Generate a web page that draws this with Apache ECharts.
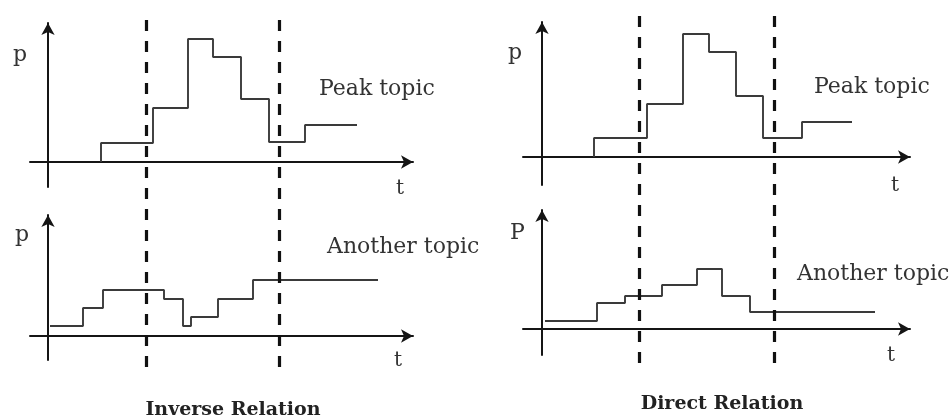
<!DOCTYPE html>
<html>
<head>
<meta charset="utf-8">
<script src="https://cdn.jsdelivr.net/npm/echarts@6/dist/echarts.min.js"></script>
<style>html,body{margin:0;padding:0;background:#fff}#c{width:949px;height:418px}</style>
</head>
<body>
<div id="c"></div>
<script>
// Step functions: each t value is the right end of a level segment (step 'start').
const peakInverseT = [53, 105, 140, 165, 193, 221, 257, 309];
const peakInverseP = [0, 19, 54, 123, 105, 63, 20, 37];
const anotherInverseT = [2, 35, 55, 116, 135, 143, 170, 205, 330];
const anotherInverseP = [10, 10, 28, 46, 37, 10, 19, 37, 56];
const peakDirectT = [52, 105, 141, 167, 194, 221, 260, 310];
const peakDirectP = [0, 19, 53, 123, 105, 61, 19, 35];
const anotherDirectT = [3, 55, 83, 120, 155, 180, 208, 333];
const anotherDirectP = [8, 8, 26, 33, 44, 60, 33, 17];
const boundaryInverseT = [98, 231];
const boundaryDirectT = [97, 232];

const pairs = (t, p) => t.map((v, i) => [v, p[i]]);

const FONT = '"DejaVu Serif", "Liberation Serif", serif';
const AX = '#151515';

const grids = [
  { left: 30, top: 23, width: 383, height: 164 },
  { left: 30, top: 215, width: 383, height: 145 },
  { left: 523, top: 22, width: 387, height: 163 },
  { left: 523, top: 210, width: 387, height: 145 },
  { left: 30, top: 14, width: 383, height: 353 },
  { left: 523, top: 12, width: 387, height: 351 }
];
const xr = [[-18, 365], [-18, 365], [-19, 368], [-19, 368], [-18, 365], [-19, 368]];
const yr = [[-25, 139], [-24, 121], [-28, 135], [-26, 119], [0, 1], [0, 1]];

function xAxisFor(i) {
  const shown = i < 4;
  return {
    type: 'value', gridIndex: i, min: xr[i][0], max: xr[i][1],
    axisLine: shown ? { show: true, onZero: true, symbol: ['none', 'arrow'], symbolSize: [10, 12], lineStyle: { color: AX, width: 2 } } : { show: false },
    axisTick: { show: false }, axisLabel: { show: false }, splitLine: { show: false }
  };
}
function yAxisFor(i) {
  const shown = i < 4;
  return {
    type: 'value', gridIndex: i, min: yr[i][0], max: yr[i][1],
    axisLine: shown ? { show: true, onZero: true, symbol: ['none', 'arrow'], symbolSize: [10, 12], lineStyle: { color: AX, width: 2 } } : { show: false },
    axisTick: { show: false }, axisLabel: { show: false }, splitLine: { show: false }
  };
}

function stepSeries(idx, data) {
  return {
    type: 'line', xAxisIndex: idx, yAxisIndex: idx, step: 'start',
    data: data, symbol: 'none', silent: true, animation: false,
    lineStyle: { color: '#3a3a3a', width: 1.9 }, z: 3
  };
}
function boundarySeries(idx, ts) {
  return {
    type: 'line', xAxisIndex: idx, yAxisIndex: idx, data: [], silent: true, animation: false,
    markLine: {
      symbol: ['none', 'none'], silent: true, animation: false, label: { show: false },
      lineStyle: { color: '#111', width: 3.2, type: [11, 10] },
      data: ts.map(t => ({ xAxis: t }))
    }, z: 5
  };
}

function txt(text, x, y, opts) {
  return {
    type: 'text', x: x, y: y, silent: true, z: 10,
    style: Object.assign({
      text: text, font: '22px ' + FONT, fill: '#333',
      textAlign: 'left', textVerticalAlign: 'middle'
    }, opts || {})
  };
}

const option = {
  animation: false,
  backgroundColor: '#fff',
  grid: grids,
  xAxis: grids.map((g, i) => xAxisFor(i)),
  yAxis: grids.map((g, i) => yAxisFor(i)),
  series: [
    stepSeries(0, pairs(peakInverseT, peakInverseP)),
    stepSeries(1, pairs(anotherInverseT, anotherInverseP)),
    stepSeries(2, pairs(peakDirectT, peakDirectP)),
    stepSeries(3, pairs(anotherDirectT, anotherDirectP)),
    boundarySeries(4, boundaryInverseT),
    boundarySeries(5, boundaryDirectT)
  ],
  graphic: [
    txt('p', 13, 55),
    txt('Peak topic', 319, 89),
    txt('t', 396, 189, { font: '20px ' + FONT }),
    txt('p', 15, 235),
    txt('Another topic', 327, 247),
    txt('t', 394, 361, { font: '20px ' + FONT }),
    txt('Inverse Relation', 233, 410, { font: 'bold 19px ' + FONT, fill: '#222', textAlign: 'center' }),
    txt('p', 508, 53),
    txt('Peak topic', 814, 87),
    txt('t', 891, 186, { font: '20px ' + FONT }),
    txt('P', 510, 233),
    txt('Another topic', 797, 274),
    txt('t', 887, 356, { font: '20px ' + FONT }),
    txt('Direct Relation', 722, 404, { font: 'bold 19px ' + FONT, fill: '#222', textAlign: 'center' })
  ]
};

const chart = echarts.init(document.getElementById('c'), null, { renderer: 'canvas' });
chart.setOption(option);
</script>
</body>
</html>
